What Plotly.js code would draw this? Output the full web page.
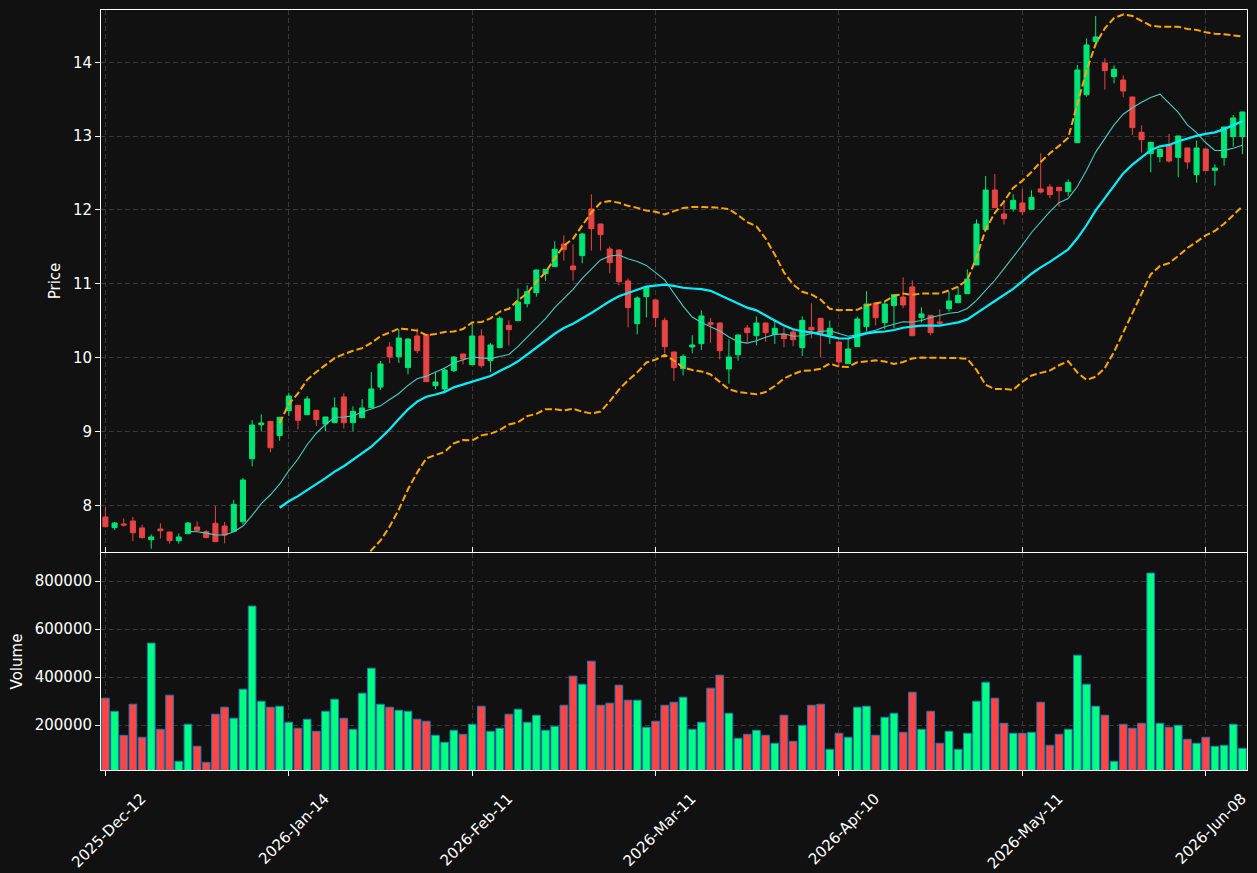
<!DOCTYPE html>
<html>
<head>
<meta charset="utf-8">
<script src="https://cdn.plot.ly/plotly-3.0.1.min.js"></script>
<style>html,body{margin:0;padding:0;background:#111111;}</style>
</head>
<body>
<div id="chart" style="width:1257px;height:873px;"></div>
<script>
// ---- data ----
const tickLabels = ['2025-Dec-12','2026-Jan-14','2026-Feb-11','2026-Mar-11','2026-Apr-10','2026-May-11','2026-Jun-08'];
const tickIndex = [0, 20, 40, 60, 80, 100, 120];

const openP = [7.841,7.697,7.747,7.787,7.693,7.534,7.679,7.638,7.521,7.616,
7.706,7.643,7.756,7.719,7.647,7.778,8.631,9.092,9.137,8.943,
9.282,9.354,9.227,9.286,9.101,9.119,9.467,9.119,9.187,9.322,
9.602,10.144,10.013,9.864,10.293,10.315,9.620,9.575,9.823,10.049,
9.905,10.293,9.959,10.135,10.437,10.501,10.731,10.880,11.137,11.232,
11.539,11.241,11.381,12.013,11.810,11.471,11.458,11.038,10.460,10.826,
10.781,10.505,10.076,9.851,10.144,10.189,10.473,10.469,9.846,10.040,
10.401,10.297,10.469,10.315,10.315,10.347,10.135,10.410,10.532,10.306,
10.212,9.918,10.149,10.419,10.740,10.474,10.704,10.821,10.957,10.541,
10.573,10.483,10.663,10.744,10.866,11.255,11.733,12.270,11.945,12.013,
12.094,12.009,12.284,12.311,12.307,12.248,12.912,13.562,14.280,13.991,
13.805,13.760,13.530,13.052,12.763,12.722,12.884,12.713,12.839,12.478,
12.826,12.537,12.708,12.993,12.993];
const highP = [7.972,7.774,7.823,7.841,7.738,7.607,7.756,7.642,7.620,7.774,
7.783,7.665,7.990,7.774,8.072,8.370,9.155,9.232,9.140,9.195,
9.525,9.358,9.480,9.290,9.198,9.462,9.516,9.340,9.440,9.805,
9.954,10.211,10.388,10.258,10.397,10.320,9.805,9.855,10.022,10.052,
10.458,10.383,10.194,10.559,10.505,10.938,10.979,11.190,11.200,11.575,
11.656,11.534,11.692,12.212,11.813,11.507,11.462,11.074,10.830,10.952,
10.784,10.541,10.080,10.045,10.302,10.640,10.537,10.472,10.248,10.315,
10.442,10.559,10.472,10.501,10.410,10.383,10.559,10.735,10.535,10.501,
10.215,10.262,10.555,10.898,10.743,10.758,10.860,11.087,11.047,10.681,
10.576,10.654,10.898,10.961,11.196,11.873,12.460,12.487,12.130,12.212,
12.279,12.266,12.767,12.352,12.310,12.415,13.963,14.325,14.627,14.054,
13.959,13.824,13.533,13.146,12.920,12.824,13.029,13.005,12.842,12.939,
12.829,12.618,13.127,13.286,13.330];
const lowP = [7.701,7.665,7.711,7.512,7.548,7.412,7.548,7.480,7.480,7.612,
7.656,7.560,7.505,7.485,7.645,7.738,8.528,9.002,8.717,8.875,
9.209,9.029,9.225,9.074,9.006,9.117,9.042,9.002,9.185,9.320,
9.561,9.923,9.927,9.774,10.058,9.670,9.575,9.516,9.805,9.909,
9.903,9.864,9.801,10.133,10.166,10.499,10.681,10.826,11.042,11.230,
11.313,11.042,11.277,11.449,11.449,11.142,10.979,10.410,10.316,10.546,
10.412,10.058,9.683,9.760,10.058,10.103,10.203,9.977,9.647,9.959,
10.212,10.167,10.216,10.185,10.139,10.153,10.022,10.261,10.004,10.185,
9.878,9.916,10.147,10.352,10.437,10.388,10.397,10.668,10.295,10.478,
10.302,10.451,10.623,10.742,10.864,11.253,11.731,12.028,11.805,11.977,
11.927,12.005,12.221,12.158,12.045,12.189,12.910,13.535,14.212,13.629,
13.715,13.526,13.015,12.776,12.510,12.645,12.641,12.442,12.559,12.370,
12.530,12.329,12.600,12.857,12.754];
const closeP = [7.710,7.760,7.733,7.629,7.562,7.571,7.656,7.521,7.571,7.760,
7.661,7.562,7.507,7.598,8.013,8.343,9.087,9.115,8.780,9.191,
9.480,9.151,9.440,9.160,9.196,9.318,9.119,9.273,9.318,9.575,
9.914,10.008,10.266,10.252,10.094,9.674,9.670,9.832,10.008,9.981,
10.293,9.891,10.171,10.532,10.379,10.753,10.893,11.187,11.196,11.467,
11.462,11.191,11.674,11.747,11.665,11.286,11.029,10.677,10.808,10.948,
10.541,10.148,9.864,10.017,10.171,10.564,10.451,10.094,10.008,10.306,
10.338,10.469,10.338,10.397,10.257,10.243,10.505,10.374,10.329,10.397,
9.941,10.117,10.523,10.726,10.541,10.726,10.853,10.713,10.297,10.591,
10.338,10.465,10.767,10.844,11.065,11.810,12.270,12.031,11.882,12.130,
11.977,12.171,12.243,12.207,12.261,12.374,13.896,14.234,14.343,13.887,
13.905,13.611,13.115,12.952,12.916,12.821,12.663,13.002,12.650,12.839,
12.532,12.568,13.124,13.246,13.327];
const volume = [312500,258000,158000,287500,150000,541700,183300,325000,50000,204200,
112500,45800,245800,275000,229200,350000,695800,300000,275000,279200,
212500,187500,225000,175000,258300,308300,229200,183300,333300,437500,
287500,275000,262500,258300,225000,216700,158300,129200,179200,162500,
204200,279200,175000,187500,245800,266700,212500,241700,179200,195800,
283300,404200,370800,466700,283300,291700,366700,304200,304200,191700,
216700,283300,295800,316700,183300,212500,354200,408300,250000,145800,
162500,179200,158300,125000,241700,133300,200000,283300,287500,100000,
166700,150000,275000,279200,158300,233300,250000,170800,337500,183300,
258300,125000,175000,100000,166700,300000,379200,312500,208300,166700,
166700,170800,295800,116700,162500,183300,491700,370800,279200,241700,
50000,204200,187500,208300,833300,208300,191700,200000,141700,125000,
150000,112500,116700,204200,104200];

// ---- derived indicators (computed from the close series, as the original chart does) ----
const idx = closeP.map((_, i) => i);
function sma(arr, n) {
  return arr.map((v, i) => {
    if (i < n - 1) return null;
    let s = 0; for (let k = i - n + 1; k <= i; k++) s += arr[k];
    return s / n;
  });
}
function band(arr, n, mult) {
  const m = sma(arr, n);
  return arr.map((v, i) => {
    if (i < n - 1) return null;
    let s = 0; for (let k = i - n + 1; k <= i; k++) s += (arr[k] - m[i]) ** 2;
    return m[i] + mult * Math.sqrt(s / n);
  });
}
const ma10 = sma(closeP, 10);
const ma20 = sma(closeP, 20);
const bbUp = band(closeP, 20, 2);
const bbLo = band(closeP, 20, -2);

const UP_C = '#00e676', DN_C = '#e84444';
const UP_V = '#00ff80', DN_V = '#ff4444';
const volColors = closeP.map((c, i) => c >= openP[i] ? UP_V : DN_V);

const traces = [
  { type: 'candlestick', x: idx, open: openP, high: highP, low: lowP, close: closeP,
    xaxis: 'x', yaxis: 'y', whiskerwidth: 0,
    increasing: { line: { color: UP_C, width: 1 }, fillcolor: UP_C },
    decreasing: { line: { color: DN_C, width: 1 }, fillcolor: DN_C },
    hoverinfo: 'skip' },
  { type: 'scatter', mode: 'lines', x: idx, y: ma10, xaxis: 'x', yaxis: 'y',
    line: { color: '#46cfc6', width: 1.1 }, connectgaps: false, hoverinfo: 'skip' },
  { type: 'scatter', mode: 'lines', x: idx, y: ma20, xaxis: 'x', yaxis: 'y',
    line: { color: '#00f2ff', width: 2.2 }, hoverinfo: 'skip' },
  { type: 'scatter', mode: 'lines', x: idx, y: bbUp, xaxis: 'x', yaxis: 'y',
    line: { color: '#ffa500', width: 2, dash: '7px,3px' }, hoverinfo: 'skip' },
  { type: 'scatter', mode: 'lines', x: idx, y: bbLo, xaxis: 'x', yaxis: 'y',
    line: { color: '#ffa500', width: 2, dash: '7px,3px' }, hoverinfo: 'skip' },
  { type: 'bar', x: idx, y: volume, xaxis: 'x', yaxis: 'y2', width: 0.84,
    marker: { color: volColors, line: { color: '#1f77b4', width: 1 } }, hoverinfo: 'skip' }
];

const gridC = '#3a3a3a';
const fontF = 'DejaVu Sans, sans-serif';
const layout = {
  width: 1257, height: 873,
  paper_bgcolor: '#111111', plot_bgcolor: '#111111',
  margin: { l: 101, r: 10, t: 10, b: 103 },
  showlegend: false, hovermode: false,
  font: { family: fontF, size: 15, color: '#ffffff' },
  boxgap: 0.45, boxgroupgap: 0, bargap: 0,
  xaxis: {
    anchor: 'y2', range: [-0.48, 124.5], autorange: false,
    tickmode: 'array', tickvals: tickIndex, ticktext: tickLabels, tickangle: -45,
    ticks: 'outside', ticklen: 5, tickwidth: 1, tickcolor: '#ffffff',
    tickfont: { family: fontF, size: 15, color: '#ffffff' },
    ticklabelshift: 36, ticklabelstandoff: 8,
    showline: true, linecolor: '#ffffff', linewidth: 1, mirror: 'all',
    showgrid: true, gridcolor: gridC, gridwidth: 1, griddash: '5px,3px',
    zeroline: false, rangeslider: { visible: false }, automargin: false
  },
  yaxis: {
    domain: [0.2868, 1], range: [7.367, 14.708], autorange: false,
    tickmode: 'array', tickvals: [8, 9, 10, 11, 12, 13, 14],
    ticks: 'outside', ticklen: 5, tickwidth: 1, tickcolor: '#ffffff',
    tickfont: { family: fontF, size: 15, color: '#ffffff' },
    showline: true, linecolor: '#ffffff', linewidth: 1, mirror: true,
    showgrid: true, gridcolor: gridC, gridwidth: 1, griddash: '5px,3px',
    zeroline: false, automargin: false,
    title: { text: 'Price', font: { family: fontF, size: 15, color: '#ffffff' }, standoff: 8 }
  },
  yaxis2: {
    domain: [0, 0.2855], range: [13740, 916630], autorange: false,
    tickmode: 'array', tickvals: [200000, 400000, 600000, 800000], tickformat: 'd',
    ticks: 'outside', ticklen: 5, tickwidth: 1, tickcolor: '#ffffff',
    tickfont: { family: fontF, size: 15, color: '#ffffff' },
    showline: true, linecolor: '#ffffff', linewidth: 1, mirror: true,
    showgrid: true, gridcolor: gridC, gridwidth: 1, griddash: '5px,3px',
    zeroline: false, automargin: false,
    title: { text: 'Volume', font: { family: fontF, size: 15, color: '#ffffff' }, standoff: 8 }
  }
};

Plotly.newPlot('chart', traces, layout, { staticPlot: true, displayModeBar: false });
</script>
</body>
</html>
